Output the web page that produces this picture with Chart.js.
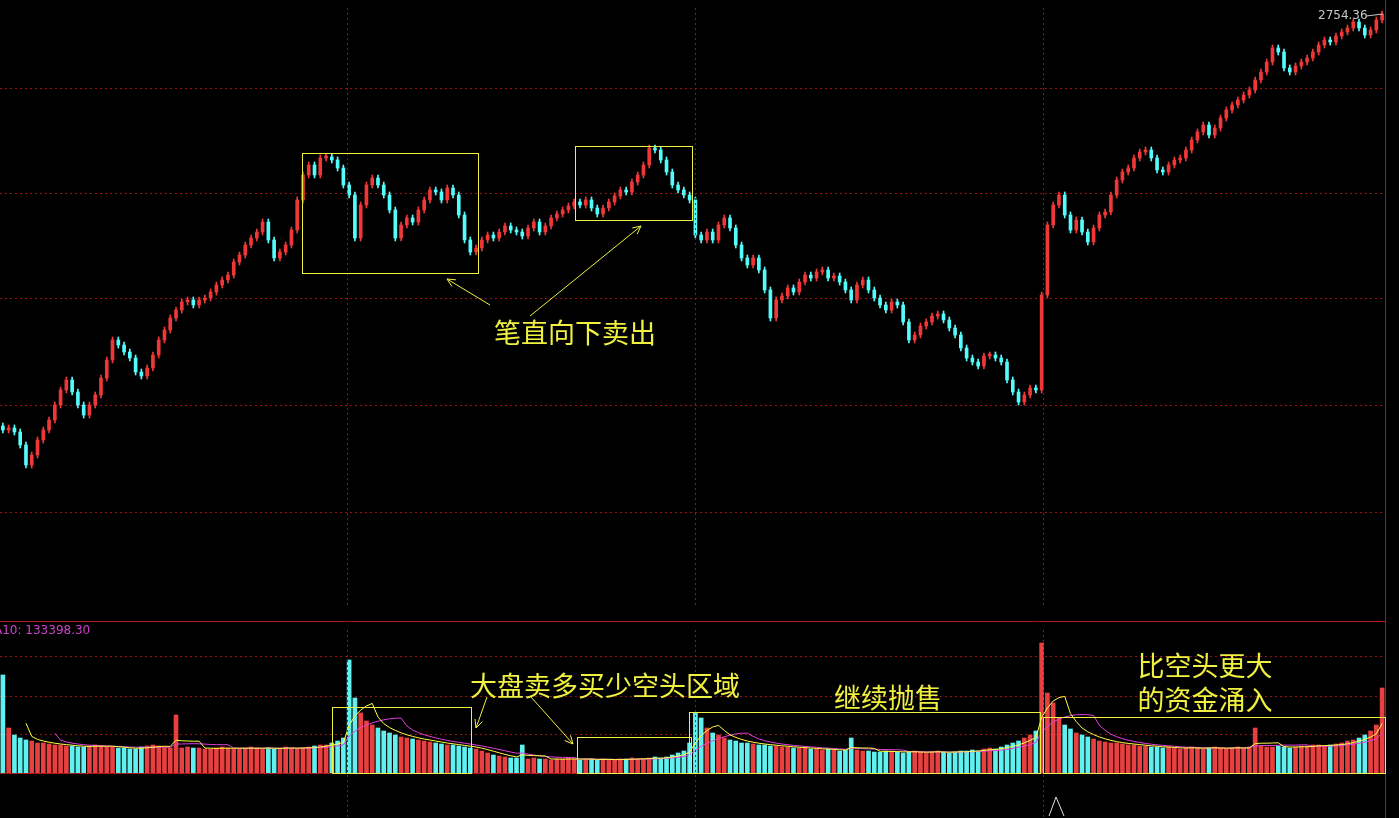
<!DOCTYPE html>
<html>
<head>
<meta charset="utf-8">
<script src="https://cdn.jsdelivr.net/npm/chart.js@4"></script>
<style>
  html, body { margin: 0; padding: 0; background: #000; }
  #wrap { position: relative; width: 1399px; height: 818px; background: #000; overflow: hidden; }
  canvas { position: absolute; }
</style>
</head>
<body>
<div id="wrap">
  <canvas id="price" style="left:0;top:0"></canvas>
  <canvas id="vol" style="left:0;top:621px"></canvas>
  <canvas id="over" width="1399" height="818" style="left:0;top:0"></canvas>
</div>
<script>
// closes per bar, four sessions of 60 bars
const closes = [
  2547, 2548, 2546, 2539.5, 2529.5, 2534.5, 2542, 2547, 2552, 2559.5, 2567, 2572, 2566, 2559.5, 2554.5, 2559.5, 2564.5, 2573, 2582, 2592,
  2589.5, 2586, 2583, 2576, 2574, 2578, 2584.5, 2592, 2597, 2603, 2607, 2611, 2612, 2609.5, 2612, 2613, 2616, 2619.5, 2622, 2624.5,
  2631, 2634.5, 2639.5, 2643, 2646, 2651, 2642, 2633, 2636, 2639.5, 2647, 2662, 2674.5, 2679.5, 2674.5, 2683, 2683.5, 2682, 2678, 2669.5,
  2664.5, 2643, 2659.5, 2669.5, 2673, 2669.5, 2664.5, 2657, 2643, 2649.5, 2653, 2651, 2657, 2662, 2667, 2666, 2662, 2668, 2664.5, 2654.5,
  2642, 2636, 2638, 2642, 2644.5, 2643, 2646, 2649, 2647, 2646, 2644, 2648, 2651, 2646, 2649, 2653, 2655, 2657, 2659, 2661,
  2659.5, 2662, 2658, 2655, 2658, 2661, 2664, 2667, 2666, 2671, 2674.5, 2679.5, 2688, 2687, 2682, 2676, 2669.5, 2667, 2664.5, 2662,
  2644.5, 2642, 2646, 2642, 2649.5, 2653, 2648, 2639.5, 2633, 2629.5, 2633, 2627, 2617, 2603, 2612, 2614, 2618, 2616, 2621, 2624.5,
  2623, 2626, 2627, 2623, 2624, 2621, 2617, 2612, 2619.5, 2622, 2617, 2613, 2609.5, 2607, 2611, 2609.5, 2601, 2592, 2594.5, 2599,
  2601, 2604, 2605, 2602, 2598, 2594.5, 2588, 2583, 2581, 2579, 2584, 2584.5, 2583, 2581, 2572, 2566, 2561, 2564.5, 2568, 2567,
  2614.5, 2649.5, 2659.5, 2664.5, 2654.5, 2647, 2652, 2646, 2641, 2648, 2654.5, 2656, 2664.5, 2672, 2676, 2678, 2683, 2686, 2687, 2683,
  2677, 2676, 2679.5, 2682, 2683, 2687, 2692, 2696, 2699.5, 2694.5, 2698, 2703, 2707, 2709.5, 2712, 2714.5, 2717, 2722, 2726, 2731,
  2738, 2736, 2728, 2726, 2729, 2731, 2733, 2736, 2739.5, 2742, 2741, 2744, 2746, 2748, 2751, 2748, 2744.5, 2747, 2752, 2755
];
// volume per bar, in 万
const volumes = [
  49, 22.5, 19, 17.5, 16.5, 16, 15, 15, 14.5, 14, 14, 13.5, 13.5, 13, 13, 13.5, 14, 13.5, 13, 13,
  12.5, 12.5, 12, 12, 13, 13.5, 14, 13.5, 13, 12.5, 29, 12.5, 13, 12.5, 12.5, 12, 12, 12.5, 13, 12.5,
  12, 12, 12.5, 13, 12.5, 12, 12.5, 12, 12.5, 13, 12.5, 12, 12.5, 13, 13.5, 14, 14, 15, 16, 17.5,
  56.5, 37.5, 30, 26, 24, 22.5, 21, 20, 19, 18, 17.5, 17, 16.5, 16, 15.5, 15, 14.5, 14, 14, 13.5,
  13, 12.5, 12, 11, 10, 9, 8.5, 8, 7.5, 7.5, 14, 7, 7.5, 7, 7, 6.5, 7, 7, 7.5, 7,
  6.5, 7, 7, 6.5, 7, 6.5, 6.5, 7, 7, 7.5, 7, 7, 7.5, 8, 7.5, 8, 9, 10, 11, 15,
  30, 27.5, 22.5, 20, 19, 17.5, 16.5, 16, 15, 15, 14.5, 14, 14, 13.5, 13.5, 13, 13, 12.5, 12.5, 12.5,
  12, 12, 11.5, 12, 11.5, 11, 11.5, 17.5, 11.5, 11, 11, 10.5, 10.5, 11, 11, 10.5, 10, 10.5, 11, 10.5,
  10, 10.5, 11, 10.5, 10, 10.5, 11, 11, 11.5, 11, 12, 12.5, 12, 13, 14, 15, 16, 17.5, 19, 21,
  65, 40, 35, 27.5, 24, 22, 20, 19, 18, 17, 16, 15.5, 15, 15, 14.5, 14, 14, 13.5, 13.5, 13,
  13, 12.5, 13, 12.5, 12, 12.5, 13, 12.5, 12, 12.5, 13, 12.5, 12, 12.5, 13, 12.5, 13, 22.5, 13.5, 13,
  13, 13.5, 13, 12.5, 13, 13.5, 13.5, 14, 14, 13.5, 14, 14.5, 15, 16, 16.5, 17.5, 19, 21, 24, 42.5
];
const labels = closes.map((c, i) => i);
const priceTicks = [2718, 2665.5, 2613, 2559.5, 2506];
const volTicks = [58, 38.5, 19.5];

const RED = '#F03838', CYAN = '#54FCFC';
const opens = closes.map((c, i) => i === 0 ? c + 2 : closes[i - 1]);
const colors = closes.map((c, i) => c >= opens[i] ? RED : CYAN);
const volColors = closes.map((c, i) => c >= opens[i] ? '#E84040' : '#60F0F0');

function ma(arr, n) {
  return arr.map((v, i) => {
    if (i < n - 1) return null;
    let s = 0;
    for (let k = i - n + 1; k <= i; k++) s += arr[k];
    return s / n;
  });
}

const GRID = 'rgba(160,20,20,0.95)';
function yGrid(min, max, ticks) {
  return {
    min: min, max: max,
    border: { display: false, dash: [2, 3] },
    ticks: { display: false },
    grid: { color: GRID, drawTicks: false },
    afterFit: s => { s.width = 0; },
    afterBuildTicks: s => { s.ticks = ticks.map(v => ({ value: v })); }
  };
}

const priceCanvas = document.getElementById('price');
priceCanvas.width = 1385; priceCanvas.height = 608;
new Chart(priceCanvas, {
  type: 'bar',
  data: {
    labels: labels,
    datasets: [
      {
        // wicks
        data: closes.map((c, i) => [Math.min(opens[i], c) - 1.5, Math.max(opens[i], c) + 1.5]),
        backgroundColor: colors,
        borderWidth: 0,
        barThickness: 1,
        categoryPercentage: 1
      },
      {
        data: closes.map((c, i) => [opens[i], c]),
        backgroundColor: colors,
        borderWidth: 0,
        barThickness: 3,
        categoryPercentage: 1,
        minBarLength: 2
      }
    ]
  },
  options: {
    responsive: false,
    animation: false,
    grouped: false,
    layout: { padding: 0 },
    plugins: { legend: { display: false }, tooltip: { enabled: false } },
    scales: {
      x: { display: false, offset: true },
      y: yGrid(2458, 2762, priceTicks)
    }
  }
});

const volCanvas = document.getElementById('vol');
volCanvas.width = 1385; volCanvas.height = 152;
new Chart(volCanvas, {
  type: 'bar',
  data: {
    labels: labels,
    datasets: [
      { type: 'line', data: ma(volumes, 5), borderColor: '#FFFF40', borderWidth: 1, pointRadius: 0, order: 0 },
      { type: 'line', data: ma(volumes, 10), borderColor: '#E040E0', borderWidth: 1, pointRadius: 0, order: 0 },
      { data: volumes, backgroundColor: volColors, borderWidth: 0, barThickness: 4, categoryPercentage: 1, order: 1 }
    ]
  },
  options: {
    responsive: false,
    animation: false,
    layout: { padding: 0 },
    plugins: { legend: { display: false }, tooltip: { enabled: false } },
    scales: {
      x: { display: false, offset: true },
      y: yGrid(0, 76, volTicks)
    }
  }
});

// dotted session lines, panel frames and annotations
const ctx = document.getElementById('over').getContext('2d');
ctx.strokeStyle = GRID;
ctx.lineWidth = 1;
ctx.setLineDash([2, 3]);
[347.5, 695.5, 1043.5].forEach(x => {
  ctx.beginPath(); ctx.moveTo(x, 8); ctx.lineTo(x, 608); ctx.stroke();
  ctx.beginPath(); ctx.moveTo(x, 630); ctx.lineTo(x, 818); ctx.stroke();
});
ctx.setLineDash([]);
ctx.strokeStyle = '#B01818';
ctx.beginPath();
ctx.moveTo(0, 621.5); ctx.lineTo(1386, 621.5);
ctx.moveTo(0, 773.5); ctx.lineTo(1386, 773.5);
ctx.moveTo(1385.5, 0); ctx.lineTo(1385.5, 818);
ctx.stroke();

ctx.font = '12px "DejaVu Sans", sans-serif';
ctx.fillStyle = '#D040D0';
ctx.textBaseline = 'middle';
ctx.fillText('A10: 133398.30', -6, 631);
ctx.fillStyle = '#C8C8C8';
ctx.fillText('2754.36', 1318, 16);
ctx.strokeStyle = '#C8C8C8';
ctx.beginPath(); ctx.moveTo(1366, 16); ctx.lineTo(1383, 14); ctx.stroke();

const Y = '#F0F040';
ctx.strokeStyle = Y; ctx.fillStyle = Y; ctx.lineWidth = 1;
[[302.5, 153.5, 176, 120], [575.5, 146.5, 117, 74], [332.5, 707.5, 139, 66], [577.5, 737.5, 114, 36],
 [689.5, 712.5, 351, 61], [1043.5, 717.5, 342, 56]].forEach(r => ctx.strokeRect(r[0], r[1], r[2], r[3]));

function arrow(x1, y1, x2, y2) {
  ctx.beginPath(); ctx.moveTo(x1, y1); ctx.lineTo(x2, y2); ctx.stroke();
  const a = Math.atan2(y2 - y1, x2 - x1);
  ctx.beginPath();
  ctx.moveTo(x2 - 9 * Math.cos(a - 0.45), y2 - 9 * Math.sin(a - 0.45));
  ctx.lineTo(x2, y2);
  ctx.lineTo(x2 - 9 * Math.cos(a + 0.45), y2 - 9 * Math.sin(a + 0.45));
  ctx.stroke();
}
arrow(490, 305, 447, 279);
arrow(530, 316, 641, 226);
arrow(487, 697, 476, 728);
arrow(531, 697, 573, 744);

ctx.font = '27px "Noto Sans CJK SC", sans-serif';
ctx.textAlign = 'center';
ctx.fillText('笔直向下卖出', 575, 333);
ctx.textAlign = 'left';
ctx.fillText('大盘卖多买少空头区域', 470, 686);
ctx.textAlign = 'center';
ctx.fillText('继续抛售', 888, 698);
ctx.fillText('比空头更大', 1205, 666);
ctx.fillText('的资金涌入', 1205, 700);

ctx.strokeStyle = '#E0E0E0';
ctx.beginPath(); ctx.moveTo(1049, 816); ctx.lineTo(1056, 797); ctx.lineTo(1064, 816); ctx.stroke();
</script>
</body>
</html>
